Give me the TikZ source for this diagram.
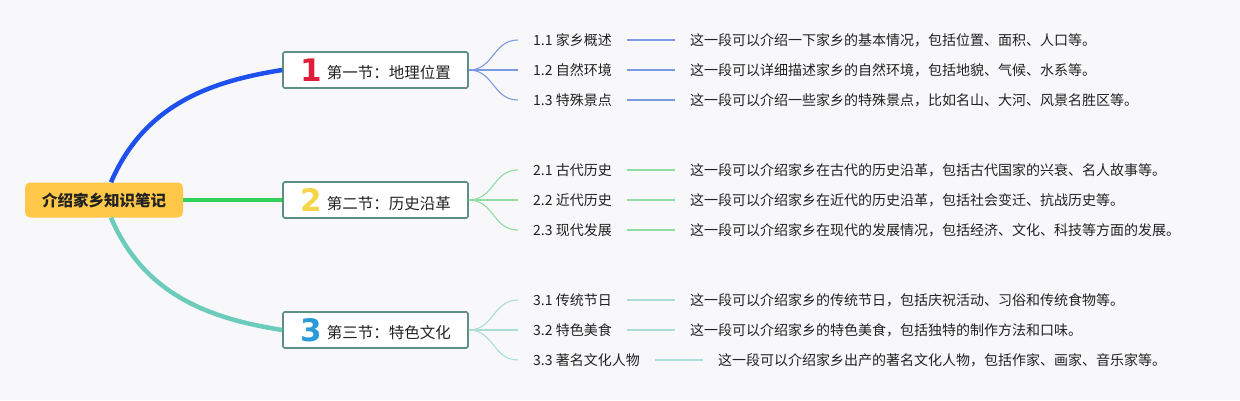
\documentclass[tikz,border=0pt]{standalone}
\usepackage{fontspec}
\setmainfont{Noto Sans CJK SC}
\newfontfamily\iconfont{DejaVu Sans Bold}
\definecolor{bgc}{RGB}{248,248,250}
\definecolor{rootc}{RGB}{255,200,72}
\definecolor{boxc}{RGB}{94,143,130}
\definecolor{txt}{RGB}{34,34,34}
\definecolor{blueM}{RGB}{30,80,240}
\definecolor{blueS}{RGB}{124,154,224}
\definecolor{greenM}{RGB}{47,208,88}
\definecolor{greenS}{RGB}{143,221,162}
\definecolor{tealM}{RGB}{108,203,187}
\definecolor{tealS}{RGB}{169,221,214}
\definecolor{iconR}{RGB}{224,30,60}
\definecolor{iconY}{RGB}{245,213,74}
\definecolor{iconB}{RGB}{42,155,216}
\newcommand{\secicon}[2]{\raisebox{-2.5pt}{\iconfont\fontsize{31}{31}\selectfont\color{#1}#2}\hspace{5pt}}
\begin{document}
\begin{tikzpicture}[x=1pt,y=-1pt,
  every node/.style={inner sep=0pt, text=txt},
  rootbox/.style={fill=rootc, rounded corners=5pt, minimum width=158pt, minimum height=35pt, font=\fontsize{15.5}{18}\selectfont\bfseries},
  secbox/.style={draw=boxc, line width=1.6pt, fill=white, rounded corners=1.5pt, minimum width=185pt, minimum height=36pt, font=\fontsize{15.5}{18}\selectfont},
  sublab/.style={anchor=west, font=\fontsize{14}{16}\selectfont},
  desc/.style={anchor=west, font=\fontsize{14}{16}\selectfont},
  mainline/.style={line width=4.5pt},
  subline/.style={line width=1.1pt},
]
\useasboundingbox (0,0) rectangle (1240,400);
\fill[bgc] (0,0) rectangle (1240,400);

% root and sections
\node[rootbox] (root) at (104,200) {介绍家乡知识笔记};
\node[secbox] (s1) at (375.5,70) {\secicon{iconR}{1}第一节：地理位置};
\node[secbox] (s2) at (375.5,200) {\secicon{iconY}{2}第二节：历史沿革};
\node[secbox] (s3) at (375.5,330) {\secicon{iconB}{3}第三节：特色文化};

% main connectors
\draw[mainline, blueM] ([xshift=7pt]root.north) .. controls (145,103) and (213,81) .. (s1.west);
\draw[mainline, greenM] (root.east) -- (s2.west);
\draw[mainline, tealM] ([xshift=7pt]root.south) .. controls (145,297) and (213,319) .. (s3.west);

% section 1
\node[sublab] (a1) at (533,40) {1.1 家乡概述};
\node[sublab] (a2) at (533,70) {1.2 自然环境};
\node[sublab] (a3) at (533,100) {1.3 特殊景点};
\node[desc] (d11) at (690,40) {这一段可以介绍一下家乡的基本情况，包括位置、面积、人口等。};
\node[desc] (d12) at (690,70) {这一段可以详细描述家乡的自然环境，包括地貌、气候、水系等。};
\node[desc] (d13) at (690,100) {这一段可以介绍一些家乡的特殊景点，比如名山、大河、风景名胜区等。};

% section 2
\node[sublab] (b1) at (533,170) {2.1 古代历史};
\node[sublab] (b2) at (533,200) {2.2 近代历史};
\node[sublab] (b3) at (533,230) {2.3 现代发展};
\node[desc] (d21) at (690,170) {这一段可以介绍家乡在古代的历史沿革，包括古代国家的兴衰、名人故事等。};
\node[desc] (d22) at (690,200) {这一段可以介绍家乡在近代的历史沿革，包括社会变迁、抗战历史等。};
\node[desc] (d23) at (690,230) {这一段可以介绍家乡在现代的发展情况，包括经济、文化、科技等方面的发展。};

% section 3
\node[sublab] (c1) at (533,300) {3.1 传统节日};
\node[sublab] (c2) at (533,330) {3.2 特色美食};
\node[sublab] (c3) at (533,360) {3.3 著名文化人物};
\node[desc] (d31) at (690,300) {这一段可以介绍家乡的传统节日，包括庆祝活动、习俗和传统食物等。};
\node[desc] (d32) at (690,330) {这一段可以介绍家乡的特色美食，包括独特的制作方法和口味。};
\node[desc] (d33) at (718,360) {这一段可以介绍家乡出产的著名文化人物，包括作家、画家、音乐家等。};

% sub connectors
\foreach \s/\a/\b/\c/\col in {s1/a1/a2/a3/blueS, s2/b1/b2/b3/greenS, s3/c1/c2/c3/tealS}{
  \foreach \l in {\a,\b,\c}{
    \draw[subline, \col] (\s.east) .. controls ([xshift=25pt]\s.east |- \s.east) and ([xshift=-40pt]\l.west) .. ([xshift=-15pt]\l.west);
  }
}
\foreach \l/\d/\col in {a1/d11/blueS, a2/d12/blueS, a3/d13/blueS, b1/d21/greenS, b2/d22/greenS, b3/d23/greenS, c1/d31/tealS, c2/d32/tealS, c3/d33/tealS}{
  \draw[subline, \col] ([xshift=15pt]\l.east) -- ([xshift=-15pt]\d.west);
}
\end{tikzpicture}
\end{document}
